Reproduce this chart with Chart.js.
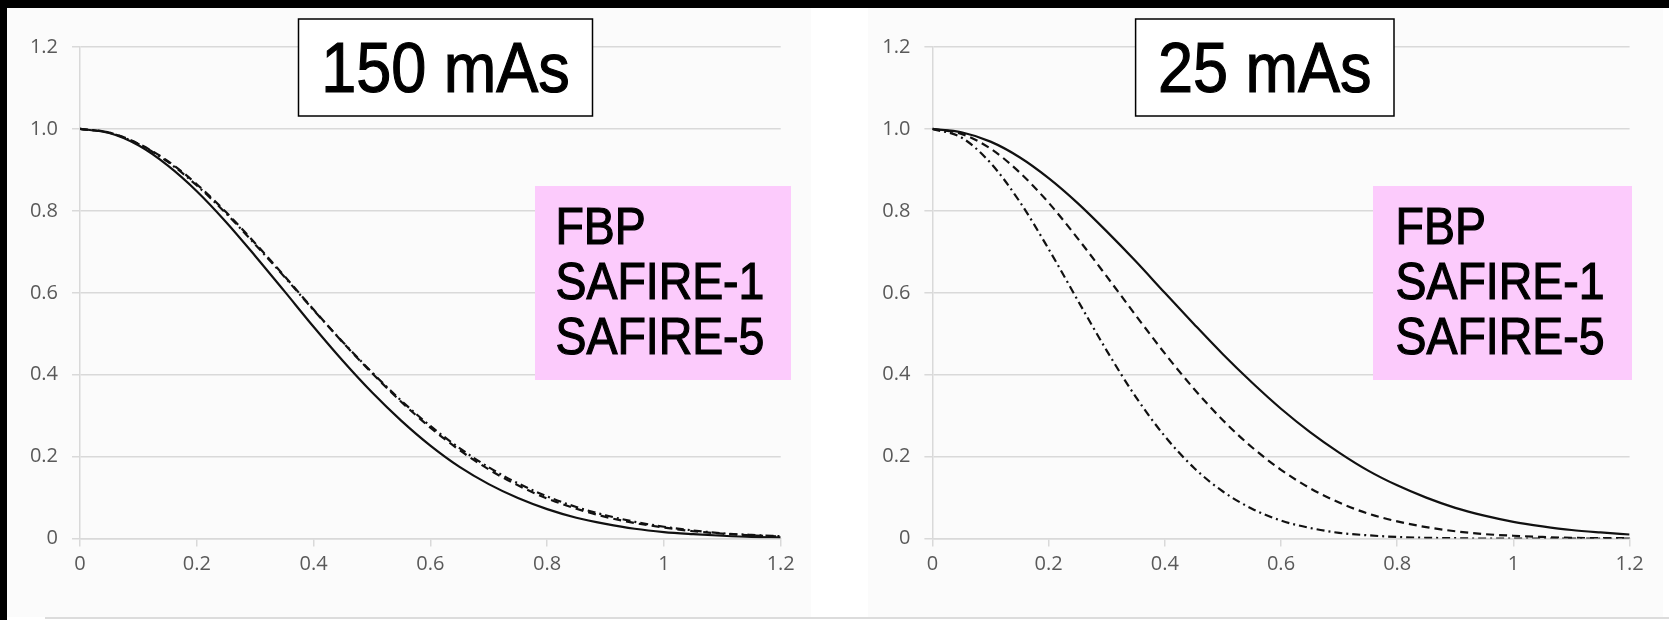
<!DOCTYPE html>
<html>
<head>
<meta charset="utf-8">
<script src="https://cdn.jsdelivr.net/npm/chart.js@4.4.1/dist/chart.umd.min.js"></script>
<style>
  body { margin: 0; width: 1669px; height: 620px; background: #fff; position: relative; overflow: hidden; }
  #topbar { position: absolute; left: 0; top: 0; width: 1669px; height: 8px; background: #000; }
  #leftbar { position: absolute; left: 0; top: 0; width: 7px; height: 620px; background: #000; }
  .panel { position: absolute; background: #fbfbfb; }
  #bottomline { position: absolute; left: 45px; top: 617px; width: 1624px; height: 2px; background: #dcdcdc; }
  canvas { position: absolute; top: 0; }
</style>
</head>
<body>
<div id="topbar"></div>
<div id="leftbar"></div>
<div class="panel" style="left:7px;top:8px;width:804px;height:609px"></div>
<div class="panel" style="left:868px;top:8px;width:795px;height:609px"></div>
<div id="bottomline"></div>
<canvas id="chart150" width="835" height="620" style="left:0px"></canvas>
<canvas id="chart25" width="834" height="620" style="left:835px"></canvas>
<script>
// spatial frequency (x axis)
const freqs = [0, 0.05, 0.1, 0.15, 0.2, 0.25, 0.3, 0.35, 0.4, 0.45, 0.5, 0.55, 0.6,
  0.65, 0.7, 0.75, 0.8, 0.85, 0.9, 0.95, 1.0, 1.05, 1.1, 1.15, 1.2];

// 150 mAs
const fbp150 = [1.000, 0.990, 0.960, 0.911, 0.848, 0.773, 0.690, 0.604, 0.517, 0.434, 0.357, 0.288, 0.227,
  0.175, 0.133, 0.099, 0.072, 0.051, 0.036, 0.024, 0.016, 0.011, 0.007, 0.004, 0.003];
const safire1_150 = [1.000, 0.991, 0.964, 0.922, 0.865, 0.797, 0.721, 0.641, 0.559, 0.479, 0.404, 0.334, 0.271,
  0.216, 0.169, 0.130, 0.098, 0.073, 0.053, 0.038, 0.027, 0.018, 0.012, 0.008, 0.005];
const safire5_150 = [1.000, 0.991, 0.963, 0.920, 0.862, 0.794, 0.718, 0.639, 0.558, 0.480, 0.406, 0.337, 0.275,
  0.221, 0.174, 0.135, 0.103, 0.077, 0.057, 0.041, 0.029, 0.020, 0.013, 0.009, 0.006];

// 25 mAs
const fbp25 = [1.000, 0.992, 0.969, 0.931, 0.880, 0.819, 0.750, 0.677, 0.600, 0.524, 0.450, 0.381, 0.317,
  0.260, 0.210, 0.166, 0.130, 0.100, 0.075, 0.056, 0.041, 0.030, 0.021, 0.015, 0.010];
const safire1_25 = [1.000, 0.988, 0.952, 0.894, 0.820, 0.733, 0.640, 0.545, 0.452, 0.366, 0.289, 0.223, 0.168,
  0.123, 0.088, 0.061, 0.042, 0.028, 0.018, 0.011, 0.007, 0.004, 0.002, 0.001, 0.001];
const safire5_25 = [1.000, 0.979, 0.917, 0.823, 0.707, 0.582, 0.459, 0.346, 0.250, 0.173, 0.115, 0.073, 0.044,
  0.026, 0.014, 0.008, 0.004, 0.002, 0.001, 0.000, 0.000, 0.000, 0.000, 0.000, 0.000];

const legendLabels = ["FBP", "SAFIRE-1", "SAFIRE-5"];
const dashes = [[], [8, 5], [8, 4, 2, 4]];

const tickFont = { family: "'Open Sans', sans-serif", size: 20 };
const gridColor = "#d9d9d9";

// draws text squeezed a bit sideways, with a thin stroke so it reads heavier
function squeezedText(ctx, text, x, y, sx) {
  ctx.save();
  ctx.translate(x, y);
  ctx.scale(sx, 1);
  ctx.lineWidth = 1.2;
  ctx.strokeStyle = "#000";
  ctx.strokeText(text, 0, 0);
  ctx.fillText(text, 0, 0);
  ctx.restore();
}

// title box + pink legend box drawn on top of the plot
const boxesPlugin = {
  id: "boxes",
  afterDraw(chart, args, opts) {
    const ctx = chart.ctx;
    ctx.save();
    const t = opts.title;
    ctx.fillStyle = "#fff";
    ctx.fillRect(t.x, t.y, t.w, t.h);
    ctx.strokeStyle = "#000";
    ctx.lineWidth = 1.5;
    ctx.strokeRect(t.x, t.y, t.w, t.h);
    ctx.fillStyle = "#000";
    ctx.font = "70px 'Liberation Sans', Arial, sans-serif";
    ctx.textAlign = "center";
    ctx.textBaseline = "alphabetic";
    squeezedText(ctx, t.text, t.x + t.w / 2, t.base, 0.9);

    const l = opts.legend;
    ctx.fillStyle = "#fccbfc";
    ctx.fillRect(l.x, l.y, l.w, l.h);
    ctx.fillStyle = "#000";
    ctx.font = "51px 'Liberation Sans', Arial, sans-serif";
    ctx.textAlign = "left";
    legendLabels.forEach((lab, i) => {
      squeezedText(ctx, lab, l.tx, l.base + i * 55.3, 0.91);
    });
    ctx.restore();
  }
};

function makeChart(id, series, padding, title, legend) {
  const ctx = document.getElementById(id).getContext("2d");
  return new Chart(ctx, {
    type: "line",
    data: {
      datasets: series.map((vals, i) => ({
        label: legendLabels[i],
        data: freqs.map((f, j) => ({ x: f, y: vals[j] })),
        borderColor: "#111",
        borderWidth: 2.2,
        borderDash: dashes[i],
        pointRadius: 0,
        fill: false,
        cubicInterpolationMode: "monotone"
      }))
    },
    options: {
      responsive: false,
      animation: false,
      layout: { padding: padding },
      scales: {
        x: {
          type: "linear",
          min: 0,
          max: 1.2,
          ticks: {
            stepSize: 0.2,
            color: "#595959",
            font: tickFont,
            padding: 6,
            maxRotation: 0,
            callback: (v) => String(Math.round(v * 10) / 10)
          },
          grid: { drawOnChartArea: false, drawTicks: true, tickLength: 8, color: gridColor, lineWidth: 1.5 },
          border: { color: gridColor, width: 1.5 },
          afterFit: (s) => { s.height = 50; }
        },
        y: {
          min: 0,
          max: 1.2,
          ticks: {
            stepSize: 0.2,
            color: "#595959",
            font: tickFont,
            padding: 14,
            callback: (v) => (Math.abs(v) < 1e-9 ? "0" : (Math.round(v * 10) / 10).toFixed(1))
          },
          grid: { color: gridColor, lineWidth: 1.5, tickLength: 8 },
          border: { color: gridColor, width: 1.5 },
          afterFit: (s) => { s.width = 80; }
        }
      },
      plugins: {
        legend: { display: false },
        tooltip: { enabled: false },
        boxes: { title: title, legend: legend }
      }
    },
    plugins: [boxesPlugin]
  });
}

makeChart("chart150", [fbp150, safire1_150, safire5_150],
  { left: 0, top: 47, right: 54.3, bottom: 31.4 },
  { text: "150 mAs", x: 298.5, y: 19, w: 294, h: 97, base: 91.7 },
  { x: 535, y: 186, w: 256, h: 194, tx: 555.5, base: 243.5 });

makeChart("chart25", [fbp25, safire1_25, safire5_25],
  { left: 17.4, top: 47, right: 39.4, bottom: 31.4 },
  { text: "25 mAs", x: 300.6, y: 19, w: 258.4, h: 97, base: 91.7 },
  { x: 538, y: 186, w: 259, h: 194, tx: 560.6, base: 243.5 });
</script>
</body>
</html>
